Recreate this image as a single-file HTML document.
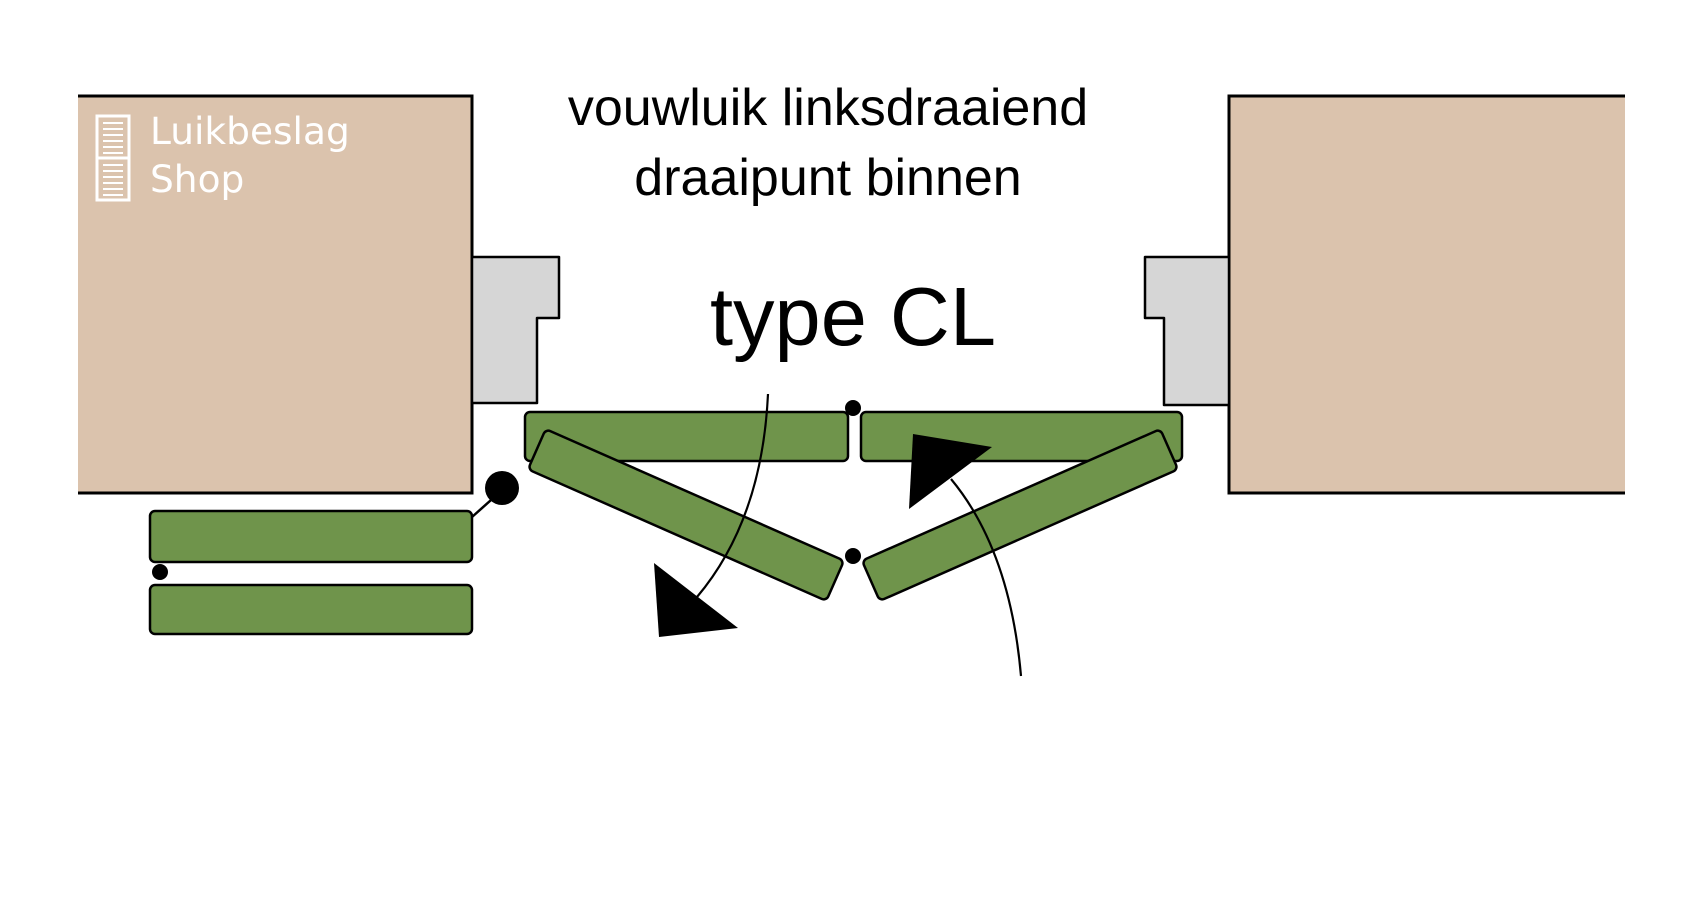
<!DOCTYPE html>
<html><head><style>
html,body{margin:0;padding:0;background:#fff;}
svg{display:block}
</style></head><body>
<svg width="1700" height="900" viewBox="0 0 1700 900" xmlns="http://www.w3.org/2000/svg">
<rect width="1700" height="900" fill="#fff"/>
<!-- walls -->
<rect x="78" y="96" width="394" height="397" fill="#dbc3ad"/>
<polyline points="78,96 472,96 472,493 78,493" fill="none" stroke="#000" stroke-width="3"/>
<rect x="1229" y="96" width="396" height="397" fill="#dbc3ad"/>
<polyline points="1625,96 1229,96 1229,493 1625,493" fill="none" stroke="#000" stroke-width="3"/>
<!-- frames -->
<polygon points="472,257 559,257 559,318 537,318 537,403 472,403" fill="#d6d6d6" stroke="#000" stroke-width="2.5" stroke-linejoin="round"/>
<polygon points="1229,257 1145,257 1145,318 1164,318 1164,405 1229,405" fill="#d6d6d6" stroke="#000" stroke-width="2.5" stroke-linejoin="round"/>
<!-- logo -->
<g fill="none" stroke="#fff" stroke-width="3">
<rect x="97" y="116" width="32" height="84"/>
<line x1="97" y1="158" x2="129" y2="158"/>
</g>
<g stroke="#fff" stroke-width="2">
<line x1="103" y1="123" x2="123" y2="123"/><line x1="103" y1="129" x2="123" y2="129"/><line x1="103" y1="135" x2="123" y2="135"/><line x1="103" y1="141" x2="123" y2="141"/><line x1="103" y1="147" x2="123" y2="147"/><line x1="103" y1="153" x2="123" y2="153"/>
<line x1="103" y1="165" x2="123" y2="165"/><line x1="103" y1="171" x2="123" y2="171"/><line x1="103" y1="177" x2="123" y2="177"/><line x1="103" y1="183" x2="123" y2="183"/><line x1="103" y1="189" x2="123" y2="189"/><line x1="103" y1="195" x2="123" y2="195"/>
</g>
<text x="150" y="144" font-family="DejaVu Sans, sans-serif" font-size="37.5" fill="#fff">Luikbeslag</text>
<text x="150" y="192" font-family="DejaVu Sans, sans-serif" font-size="37.5" fill="#fff">Shop</text>
<!-- titles -->
<g font-family="Liberation Sans, sans-serif" fill="#000" text-anchor="middle">
<text x="828" y="125" font-size="52">vouwluik linksdraaiend</text>
<text x="828" y="195" font-size="52">draaipunt binnen</text>
<text x="853" y="345" font-size="83">type CL</text>
</g>
<!-- panels -->
<g fill="#6f944b" stroke="#000" stroke-width="2.5">
<rect x="525" y="412" width="323" height="49" rx="5"/>
<rect x="861" y="412" width="321" height="49" rx="5"/>
<rect x="150" y="511" width="322" height="51" rx="5"/>
<rect x="150" y="585" width="322" height="49" rx="5"/>
<rect x="-163" y="-22" width="326" height="44" rx="5" transform="translate(686,515) rotate(23.8)"/>
<rect x="-163" y="-22" width="326" height="44" rx="5" transform="translate(1020,515) rotate(-23.8)"/>
</g>
<!-- dots -->
<circle cx="853" cy="408" r="8" fill="#000"/>
<circle cx="853" cy="556" r="8" fill="#000"/>
<circle cx="160" cy="572" r="8" fill="#000"/>
<circle cx="502" cy="488" r="17" fill="#000"/>
<line x1="472" y1="517" x2="500" y2="492" stroke="#000" stroke-width="2.5"/>
<!-- arrows -->
<path d="M768,394 Q762,520 697,597" fill="none" stroke="#000" stroke-width="2.2"/>
<polygon points="654,563 738,628 659,637" fill="#000"/>
<path d="M1021,676 Q1010,550 951,479" fill="none" stroke="#000" stroke-width="2.2"/>
<polygon points="913,434 992,447 909,509" fill="#000"/>
</svg>
</body></html>
